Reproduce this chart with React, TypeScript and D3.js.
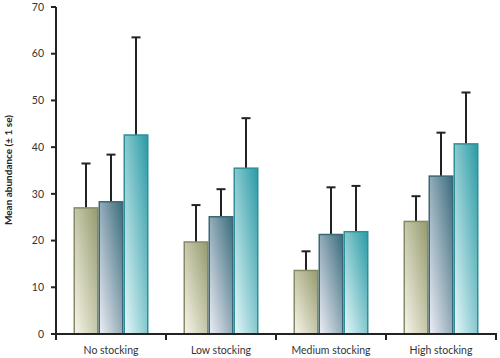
import React from "react";
import * as d3 from "d3";

const categories = ["No stocking", "Low stocking", "Medium stocking", "High stocking"];
const series = ["s1", "s2", "s3"];
const meanS1 = [27.0, 19.7, 13.6, 24.1];
const meanS2 = [28.3, 25.1, 21.3, 33.8];
const meanS3 = [42.6, 35.5, 21.9, 40.7];
const upperS1 = [36.5, 27.6, 17.7, 29.5];
const upperS2 = [38.4, 31.0, 31.4, 43.1];
const upperS3 = [63.5, 46.2, 31.7, 51.7];
const yTicks = [0, 10, 20, 30, 40, 50, 60, 70];

const means = [meanS1, meanS2, meanS3];
const uppers = [upperS1, upperS2, upperS3];

const grads = [
  { id: "g1", top: "#959a6c", bottom: "#f7f5ea", stroke: "#868b66" },
  { id: "g2", top: "#3a6b7c", bottom: "#eeeef6", stroke: "#3a6877" },
  { id: "g3", top: "#2a9aa4", bottom: "#e6f8fa", stroke: "#2e8f98" },
];

export default function App() {
  const W = 500, H = 358;
  const x = d3.scaleBand<string>().domain(categories).range([56, 496]).paddingInner(0).paddingOuter(0);
  const xs = d3.scaleBand<string>().domain(series).range([0, x.bandwidth()]).paddingInner(0).paddingOuter(0.7);
  const y = d3.scaleLinear().domain([0, 70]).range([334, 7]);
  const font = "Lato, 'Open Sans', sans-serif";
  const capW = 9;

  const xTickPos = [...categories.map((c) => x(c)!), 496];

  return (
    <svg width={W} height={H} style={{ position: "absolute", left: 0, top: 0 }} fontFamily={font}>
      <defs>
        {grads.map((g) => (
          <linearGradient key={g.id} id={g.id} x1="1" y1="0" x2="0" y2="1">
            <stop offset="0" stopColor={g.top} />
            <stop offset="1" stopColor={g.bottom} />
          </linearGradient>
        ))}
      </defs>
      <rect width={W} height={H} fill="#fff" />
      {categories.map((c, ci) =>
        series.map((s, si) => {
          const cx = x(c)! + xs(s)! + xs.bandwidth() / 2;
          return (
            <g key={`e${ci}${si}`} stroke="#222" strokeWidth={2}>
              <line x1={cx} x2={cx} y1={y(means[si][ci])} y2={y(uppers[si][ci])} />
              <line x1={cx - capW / 2} x2={cx + capW / 2} y1={y(uppers[si][ci])} y2={y(uppers[si][ci])} />
            </g>
          );
        })
      )}
      {categories.map((c, ci) =>
        series.map((s, si) => (
          <rect
            key={`b${ci}${si}`}
            x={x(c)! + xs(s)! + 0.75}
            y={y(means[si][ci])}
            width={xs.bandwidth() - 1.5}
            height={y(0) - y(means[si][ci])}
            fill={`url(#${grads[si].id})`}
            stroke={grads[si].stroke}
            strokeWidth={1.5}
          />
        ))
      )}
      <line x1={56} x2={56} y1={y(70)} y2={y(0) + 5} stroke="#222" strokeWidth={2} />
      {yTicks.map((t) => (
        <g key={t}>
          <line x1={51} x2={56} y1={y(t)} y2={y(t)} stroke="#222" strokeWidth={2} />
          <text x={44} y={y(t)} dy="0.35em" textAnchor="end" fontSize={10.5} fill="#333">
            {t}
          </text>
        </g>
      ))}
      <line x1={55} x2={497} y1={y(0)} y2={y(0)} stroke="#222" strokeWidth={2} />
      {xTickPos.map((p, i) => (
        <line key={i} x1={p} x2={p} y1={y(0)} y2={y(0) + 6} stroke="#222" strokeWidth={2} />
      ))}
      {categories.map((c) => (
        <text key={c} x={x(c)! + x.bandwidth() / 2} y={354} textAnchor="middle" fontSize={10.5} fill="#333">
          {c}
        </text>
      ))}
      <text
        transform={`translate(12, 170) rotate(-90)`}
        textAnchor="middle"
        fontSize={10}
        fontWeight="bold"
        fill="#222"
      >
        Mean abundance (± 1 se)
      </text>
    </svg>
  );
}
